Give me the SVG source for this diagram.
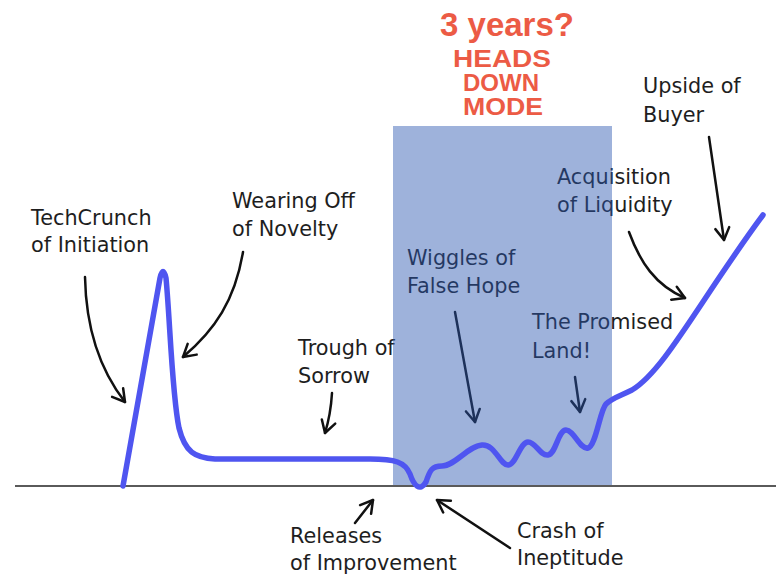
<svg xmlns="http://www.w3.org/2000/svg" width="776" height="575" viewBox="0 0 776 575">
<style>
.lbl{font-family:"DejaVu Sans","Liberation Sans",sans-serif;font-size:20.8px;fill:#1e1e1e}
.title{font-family:"Liberation Sans",Arial,sans-serif;font-weight:bold;fill:#ec5b45;text-anchor:middle}
.sub{font-size:23.5px}
.arr{fill:none;stroke:#111;stroke-width:2.5;stroke-linecap:round;marker-end:url(#ah)}
</style>
<defs>
<marker id="ah" markerUnits="userSpaceOnUse" markerWidth="30" markerHeight="30" refX="0" refY="0" viewBox="-15 -15 30 30" orient="auto" overflow="visible">
<path d="M-12,-7 L0,0 L-12,7" fill="none" stroke="#111" stroke-width="2.5" stroke-linecap="round" stroke-linejoin="round"/>
</marker>
</defs>
<rect width="776" height="575" fill="#fff"/>
<g id="title">
<text class="title" x="507" y="36" font-size="33">3 years?</text>
<text class="title sub" x="502" y="67" textLength="98" lengthAdjust="spacingAndGlyphs">HEADS</text>
<text class="title sub" x="501" y="91" textLength="76" lengthAdjust="spacingAndGlyphs">DOWN</text>
<text class="title sub" x="503" y="115" textLength="80" lengthAdjust="spacingAndGlyphs">MODE</text>
</g>
<g id="labels">
<g id="techcrunch"><text class="lbl" x="31" y="225">TechCrunch</text><text class="lbl" x="31" y="252">of Initiation</text></g>
<g id="wearing"><text class="lbl" x="232" y="208">Wearing Off</text><text class="lbl" x="232" y="236">of Novelty</text></g>
<g id="trough"><text class="lbl" x="298" y="355">Trough of</text><text class="lbl" x="298" y="383">Sorrow</text></g>
<g id="wiggles"><text class="lbl" x="407" y="265">Wiggles of</text><text class="lbl" x="407" y="293">False Hope</text></g>
<g id="promised"><text class="lbl" x="532" y="329">The Promised</text><text class="lbl" x="532" y="358">Land!</text></g>
<g id="acquisition"><text class="lbl" x="557" y="184">Acquisition</text><text class="lbl" x="557" y="212">of Liquidity</text></g>
<g id="upside"><text class="lbl" x="643" y="93">Upside of</text><text class="lbl" x="643" y="122">Buyer</text></g>
<g id="releases"><text class="lbl" x="290" y="543">Releases</text><text class="lbl" x="290" y="570">of Improvement</text></g>
<g id="crash"><text class="lbl" x="517" y="538">Crash of</text><text class="lbl" x="517" y="565">Ineptitude</text></g>
</g>
<g id="connectors">
<path class="arr" d="M85,277 C86,330 100,370 125,402"/>
<path class="arr" d="M243,252 C235,300 215,330 183,357"/>
<path class="arr" d="M332,393 C331,410 329,420 325,433"/>
<path class="arr" d="M455,312 L475,422"/>
<path class="arr" d="M575,377 L580,412"/>
<path class="arr" d="M629,232 C640,262 655,285 685,298"/>
<path class="arr" d="M709,137 L724,240"/>
<path class="arr" d="M355,523 L373,500"/>
<path class="arr" d="M510,548 L437,500"/>
</g>
<rect id="heads-down-zone" x="393" y="126" width="219" height="360" fill="rgb(44,88,176)" fill-opacity="0.46"/>
<line id="axis" x1="15" y1="486" x2="776" y2="486" stroke="#5a5a5a" stroke-width="2"/>
<path id="curve" d="M123,486 L160,278 Q163,265 166,278 C170,320 172,395 179,428 C185,452 195,458 215,459 L370,459 C395,459 405,462 410,474 C414,486 420,492 426,482 C430,470 432,466 442,466 C455,466 468,446 482,445 C495,444 500,465 508,465 C516,465 520,442 528,442 C536,442 540,456 548,455 C556,454 558,430 566,430 C574,430 580,450 588,448 C596,446 600,410 606,404 C612,398 620,396 632,390 C665,370 700,300 763,215" fill="none" stroke="#4f55f0" stroke-width="5.5" stroke-linecap="round" stroke-linejoin="round"/>
</svg>
